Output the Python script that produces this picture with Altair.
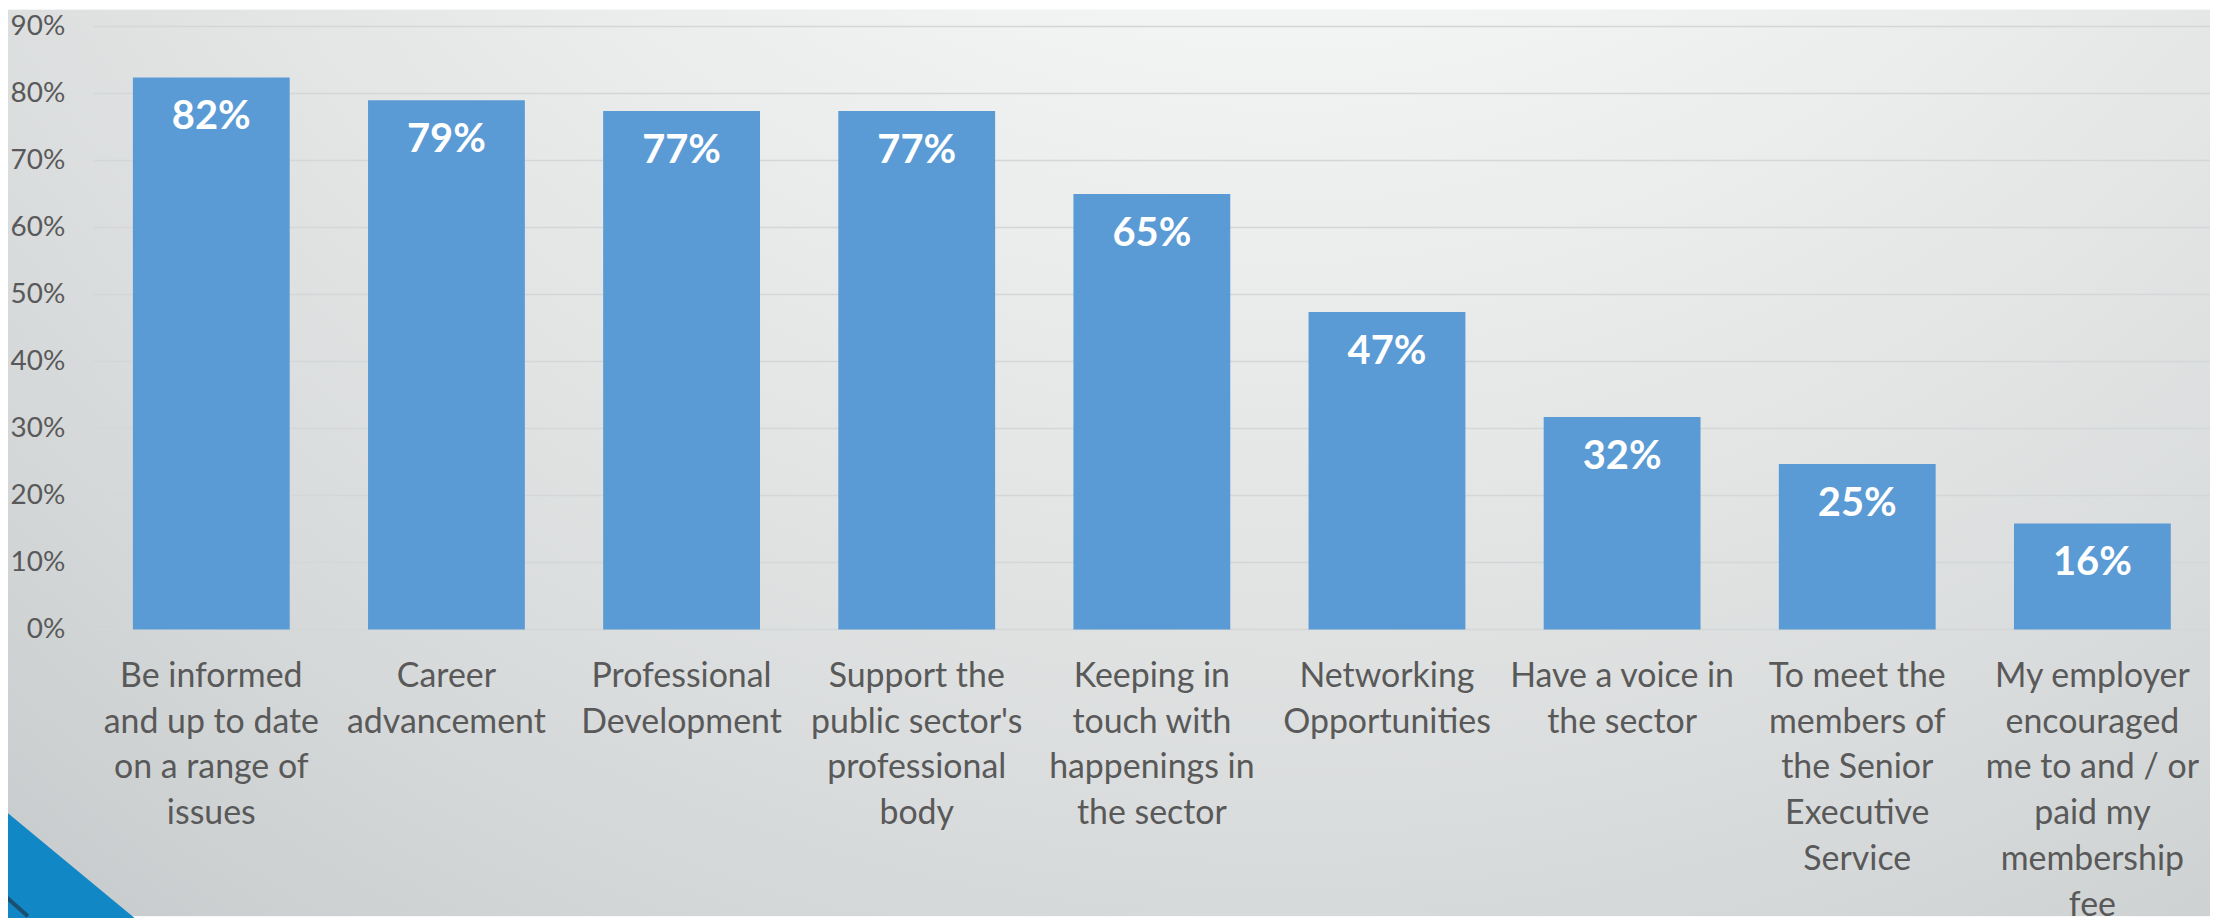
import json
import altair as alt
import pandas as pd

# ---- data ----
categories = [
    "Be informed and up to date on a range of issues",
    "Career advancement",
    "Professional Development",
    "Support the public sector's professional body",
    "Keeping in touch with happenings in the sector",
    "Networking Opportunities",
    "Have a voice in the sector",
    "To meet the members of the Senior Executive Service",
    "My employer encouraged me to and / or paid my membership fee",
]
values = [0.824, 0.79, 0.774, 0.774, 0.65, 0.474, 0.317, 0.247, 0.158]
wrapped = [
    ["Be informed", "and up to date", "on a range of", "issues"],
    ["Career", "advancement"],
    ["Professional", "Development"],
    ["Support the", "public sector's", "professional", "body"],
    ["Keeping in", "touch with", "happenings in", "the sector"],
    ["Networking", "Opportunities"],
    ["Have a voice in", "the sector"],
    ["To meet the", "members of", "the Senior", "Executive", "Service"],
    ["My employer", "encouraged", "me to and / or", "paid my", "membership", "fee"],
]
y_ticks = [0, 0.1, 0.2, 0.3, 0.4, 0.5, 0.6, 0.7, 0.8, 0.9]

df = pd.DataFrame({"category": categories, "value": values})
grid_df = pd.DataFrame({"tick": y_ticks})
one = pd.DataFrame({"k": [0]})

W, H = 2124, 605
FONT = "Lato"
TEXT = "#595959"

label_map = json.dumps(dict(zip(categories, wrapped)))

yscale = alt.Scale(domain=[0, 0.9], nice=False, zero=True)
yaxis = alt.Axis(
    values=y_ticks, format=".0%", grid=False, domain=False, ticks=False,
    labelFont=FONT, labelFontSize=28, labelColor=TEXT, labelPadding=29, title=None,
    zindex=2,
)
xenc = alt.X(
    "category:N", sort=categories, title=None,
    scale=alt.Scale(paddingInner=0.333, paddingOuter=0.1667),
    axis=alt.Axis(
        labelExpr=f"{label_map}[datum.value]", labelAngle=0, labelFont=FONT,
        labelFontSize=34, labelColor=TEXT, labelLineHeight=46, labelPadding=30,
        labelLimit=0, domain=False, ticks=False, grid=False, zindex=2,
    ),
)

bg = alt.Chart(one).mark_rect(
    fill=alt.RadialGradient(
        gradient="radial",
        stops=[
            alt.GradientStop(offset=0, color="#fafbfb"),
            alt.GradientStop(offset=0.35, color="#f2f3f3"),
            alt.GradientStop(offset=0.6, color="#e2e4e4"),
            alt.GradientStop(offset=0.85, color="#d0d3d4"),
            alt.GradientStop(offset=1, color="#c3c6c8"),
        ],
        x1=0.58, y1=-0.05, r1=0, x2=0.58, y2=-0.05, r2=1.0,
    )
).encode(x=alt.value(-86), x2=alt.value(W), y=alt.value(-17), y2=alt.value(H + 288))

grid = alt.Chart(grid_df).mark_rule(color="#d4d6d7", strokeWidth=1.5).encode(
    y=alt.Y("tick:Q", scale=yscale, axis=yaxis)
)

bars = alt.Chart(df).mark_bar(color="#5b9bd5").encode(
    x=xenc, y=alt.Y("value:Q", scale=yscale, axis=yaxis)
)

labels = alt.Chart(df).mark_text(
    font=FONT, fontSize=40, fontWeight="bold", color="white", baseline="middle", dy=40
).encode(
    x=alt.X("category:N", sort=categories),
    y=alt.Y("value:Q", scale=yscale, axis=yaxis),
    text=alt.Text("value:Q", format=".0%"),
)

corner = alt.Chart(one).mark_point(
    shape="M-1,-0.55 L0,-0.55 L1,0.277 L1,1 L-1,1 Z",
    filled=True, fill="#1287c6", opacity=1, strokeWidth=0, size=160000,
).encode(x=alt.value(-94), y=alt.value(H + 288))

stripe = alt.Chart(one).mark_rule(color="#1b4f72", strokeWidth=4).encode(
    x=alt.value(-94), y=alt.value(H + 263), x2=alt.value(-66), y2=alt.value(H + 288)
)

chart = alt.layer(bg, grid, bars, labels, corner, stripe).properties(
    width=W, height=H,
    autosize=alt.AutoSizeParams(type="none"),
    padding={"left": 86, "top": 17, "right": 0, "bottom": 288},
).configure_view(stroke=None)

chart.save("out.html", embed_options={"renderer": "svg", "actions": False})
